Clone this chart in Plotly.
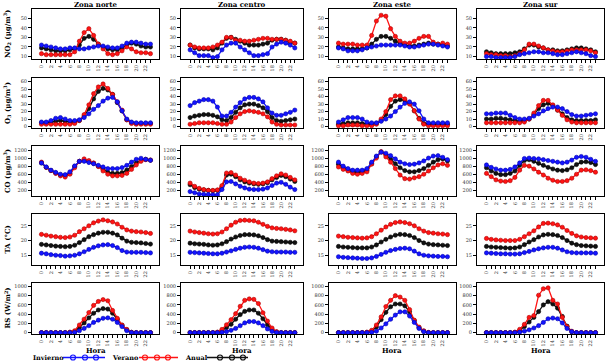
import plotly.graph_objects as go

HOURS = list(range(24))
ZONES = ["Zona norte", "Zona centro", "Zona este", "Zona sur"]
XTICK_MAJOR = list(range(0, 24, 2))
XTICK_MINOR = list(range(1, 24, 2))

# ---------------- NO2 ----------------
no2_norte_inv = [22, 21, 20, 19, 18, 18, 19, 19, 18, 18, 19, 20, 21, 21, 20, 19, 19, 21, 24, 25, 25, 24, 23, 23]
no2_norte_ver = [13, 12, 12, 12, 12, 12, 12, 15, 26, 35, 39, 32, 23, 18, 13, 12, 13, 16, 20, 18, 15, 14, 14, 13]
no2_norte_anu = [19, 18, 17, 16, 16, 16, 17, 18, 22, 29, 31, 28, 23, 20, 18, 17, 17, 19, 22, 24, 23, 21, 20, 20]

no2_centro_inv = [17, 14, 11, 11, 11, 9, 10, 17, 22, 24, 24, 20, 17, 14, 11, 11, 12, 13, 20, 23, 25, 24, 22, 19]
no2_centro_ver = [22, 20, 19, 19, 19, 20, 22, 25, 30, 30, 27, 27, 26, 26, 27, 28, 29, 29, 28, 28, 28, 27, 26, 24]
no2_centro_anu = [22, 19, 18, 18, 18, 17, 19, 24, 29, 30, 28, 26, 24, 22, 22, 22, 23, 24, 27, 28, 28, 27, 25, 24]

no2_este_inv = [19, 18, 16, 16, 16, 17, 19, 20, 21, 22, 22, 22, 22, 22, 21, 20, 20, 21, 22, 23, 23, 22, 21, 20]
no2_este_ver = [24, 23, 23, 23, 22, 22, 22, 32, 47, 53, 52, 39, 31, 26, 24, 24, 26, 29, 31, 31, 25, 23, 24, 23]
no2_este_anu = [20, 19, 18, 18, 18, 18, 19, 23, 28, 31, 31, 29, 26, 24, 22, 21, 21, 22, 23, 24, 23, 23, 22, 21]

no2_sur_inv = [10, 10, 9, 9, 9, 9, 10, 12, 13, 14, 15, 15, 14, 14, 13, 12, 12, 13, 14, 15, 14, 13, 11, 10]
no2_sur_ver = [13, 12, 12, 11, 11, 10, 11, 13, 17, 23, 23, 21, 19, 17, 16, 15, 15, 16, 17, 17, 17, 17, 16, 14]
no2_sur_anu = [15, 14, 13, 13, 13, 13, 14, 15, 18, 22, 22, 20, 19, 17, 17, 16, 16, 17, 18, 19, 19, 18, 17, 15]

# ---------------- O3 ----------------
o3_norte_inv = [6, 6, 8, 11, 12, 10, 8, 8, 9, 12, 17, 23, 28, 34, 38, 39, 33, 21, 10, 6, 5, 5, 5, 5]
o3_norte_ver = [3, 3, 3, 3, 3, 3, 3, 4, 8, 16, 29, 44, 53, 57, 51, 43, 33, 22, 9, 4, 3, 3, 3, 3]
o3_norte_anu = [5, 5, 6, 7, 8, 7, 6, 6, 8, 14, 24, 37, 47, 51, 49, 43, 32, 21, 9, 5, 4, 4, 4, 4]

o3_centro_inv = [28, 32, 34, 36, 36, 34, 26, 14, 14, 19, 26, 32, 37, 39, 39, 37, 33, 25, 18, 15, 15, 17, 19, 22]
o3_centro_ver = [3, 4, 5, 5, 5, 5, 4, 3, 3, 6, 12, 17, 20, 21, 20, 19, 17, 13, 6, 3, 2, 2, 2, 2]
o3_centro_anu = [12, 14, 15, 16, 16, 15, 13, 9, 8, 12, 19, 25, 29, 30, 30, 28, 25, 20, 12, 8, 7, 8, 9, 10]

o3_este_inv = [6, 9, 12, 12, 12, 10, 6, 5, 5, 7, 10, 14, 20, 26, 31, 33, 30, 21, 10, 5, 5, 5, 5, 5]
o3_este_ver = [1, 1, 2, 2, 2, 1, 1, 1, 3, 10, 20, 36, 41, 41, 37, 30, 21, 10, 3, 1, 1, 1, 1, 1]
o3_este_anu = [3, 4, 5, 5, 5, 4, 3, 3, 4, 8, 16, 27, 34, 36, 35, 31, 21, 11, 4, 3, 3, 3, 3, 3]

o3_sur_inv = [17, 17, 18, 18, 18, 15, 12, 10, 10, 11, 14, 17, 21, 24, 26, 26, 24, 20, 16, 14, 14, 15, 16, 17]
o3_sur_ver = [5, 5, 5, 5, 5, 5, 5, 5, 6, 10, 18, 28, 35, 35, 29, 22, 15, 9, 6, 5, 5, 5, 5, 5]
o3_sur_anu = [10, 10, 11, 11, 10, 9, 8, 7, 8, 10, 16, 24, 29, 31, 28, 22, 17, 12, 9, 8, 8, 8, 8, 9]

# ---------------- CO ----------------
co_norte_inv = [880, 780, 700, 645, 600, 590, 660, 805, 920, 920, 890, 860, 820, 780, 740, 740, 740, 765, 820, 900, 970, 995, 970, 945]
co_norte_ver = [900, 770, 690, 620, 560, 530, 600, 760, 920, 980, 940, 880, 790, 680, 600, 560, 560, 570, 620, 720, 830, 920, 960, 950]
co_norte_anu = [880, 770, 690, 630, 580, 560, 620, 790, 920, 940, 910, 870, 800, 720, 650, 620, 620, 640, 700, 790, 880, 950, 970, 950]

co_centro_inv = [170, 140, 110, 100, 100, 90, 90, 220, 410, 420, 360, 300, 260, 230, 220, 220, 230, 260, 320, 380, 400, 350, 280, 220]
co_centro_ver = [380, 300, 250, 220, 200, 200, 210, 320, 630, 640, 580, 500, 450, 410, 380, 370, 380, 410, 490, 560, 610, 580, 520, 460]
co_centro_anu = [340, 270, 230, 210, 200, 190, 200, 290, 580, 600, 540, 460, 410, 380, 360, 350, 360, 390, 460, 520, 570, 540, 480, 420]

co_este_inv = [900, 800, 740, 700, 700, 700, 740, 900, 1050, 1150, 1120, 1060, 980, 900, 860, 840, 850, 880, 930, 1000, 1050, 1060, 1020, 960]
co_este_ver = [780, 720, 680, 620, 600, 620, 660, 850, 1000, 1160, 1030, 900, 740, 580, 490, 480, 510, 540, 600, 680, 760, 830, 860, 820]
co_este_anu = [850, 760, 700, 660, 650, 660, 700, 860, 1030, 1150, 1080, 970, 860, 760, 690, 660, 660, 690, 740, 820, 900, 960, 980, 930]

co_sur_inv = [830, 770, 730, 700, 700, 720, 780, 880, 990, 1000, 990, 980, 960, 940, 920, 900, 880, 900, 950, 1020, 1040, 1020, 970, 920]
co_sur_ver = [620, 540, 460, 430, 420, 440, 520, 700, 820, 800, 730, 650, 580, 500, 450, 420, 420, 440, 500, 600, 700, 710, 690, 650]
co_sur_anu = [760, 680, 620, 590, 590, 620, 680, 820, 940, 960, 920, 870, 820, 770, 730, 700, 690, 710, 760, 840, 900, 910, 890, 840]

# ---------------- TA ----------------
ta_norte_inv = [15.7, 15.5, 15.2, 15.0, 14.9, 14.7, 14.8, 15.0, 15.5, 16.2, 17.0, 17.7, 18.2, 18.5, 18.6, 18.3, 17.6, 16.6, 16.1, 16.0, 16.0, 16.0, 15.9, 15.8]
ta_norte_ver = [22.1, 21.8, 21.5, 21.3, 21.1, 21.0, 21.2, 21.8, 23.0, 24.0, 25.0, 26.0, 26.6, 27.0, 26.7, 26.3, 25.6, 24.5, 23.6, 23.2, 23.0, 22.9, 22.7, 22.4]
ta_norte_anu = [18.7, 18.5, 18.3, 18.1, 18.0, 17.9, 18.0, 18.4, 19.3, 20.3, 21.3, 22.0, 22.5, 22.8, 22.8, 22.5, 21.9, 20.8, 19.8, 19.4, 19.3, 19.2, 19.0, 18.8]

ta_centro_inv = [16.0, 15.9, 15.8, 15.7, 15.6, 15.5, 15.5, 15.7, 16.1, 16.5, 17.0, 17.4, 17.7, 17.8, 17.7, 17.4, 16.9, 16.4, 16.2, 16.1, 16.1, 16.1, 16.0, 16.0]
ta_centro_ver = [23.2, 22.9, 22.7, 22.5, 22.3, 22.2, 22.3, 22.9, 24.0, 25.2, 26.2, 26.8, 26.9, 26.8, 26.7, 26.2, 25.5, 24.8, 24.3, 24.1, 24.0, 23.8, 23.6, 23.3]
ta_centro_anu = [19.1, 18.9, 18.8, 18.7, 18.5, 18.4, 18.5, 18.9, 19.6, 20.5, 21.2, 21.7, 22.0, 22.0, 21.9, 21.6, 21.0, 20.3, 19.8, 19.7, 19.6, 19.5, 19.4, 19.3]

ta_este_inv = [14.5, 14.3, 14.2, 14.1, 14.0, 13.9, 13.9, 14.1, 14.6, 15.3, 16.0, 16.6, 17.0, 17.3, 17.4, 17.2, 16.4, 15.5, 15.0, 14.8, 14.7, 14.6, 14.6, 14.5]
ta_este_ver = [21.5, 21.3, 21.1, 21.0, 20.9, 20.8, 20.9, 21.3, 22.3, 23.5, 24.6, 25.5, 26.1, 26.3, 26.1, 25.7, 25.0, 24.0, 23.2, 22.7, 22.5, 22.3, 22.2, 22.0]
ta_este_anu = [18.0, 17.8, 17.7, 17.6, 17.5, 17.5, 17.5, 17.8, 18.5, 19.5, 20.4, 21.2, 21.8, 22.1, 22.0, 21.7, 21.0, 20.0, 19.2, 18.8, 18.6, 18.5, 18.4, 18.3]

ta_sur_inv = [15.8, 15.7, 15.6, 15.5, 15.5, 15.4, 15.4, 15.5, 15.9, 16.3, 16.8, 17.2, 17.5, 17.7, 17.7, 17.4, 16.8, 16.2, 15.9, 15.8, 15.8, 15.8, 15.8, 15.7]
ta_sur_ver = [20.7, 20.4, 20.2, 20.1, 20.0, 20.0, 20.0, 20.4, 21.3, 22.3, 23.3, 24.6, 25.8, 25.9, 25.7, 25.3, 24.5, 23.4, 22.4, 21.6, 21.2, 21.0, 20.9, 20.8]
ta_sur_anu = [18.0, 17.8, 17.7, 17.6, 17.5, 17.4, 17.5, 17.8, 18.6, 19.5, 20.3, 21.2, 21.9, 22.1, 22.0, 21.7, 21.0, 20.0, 19.1, 18.6, 18.3, 18.2, 18.1, 18.0]

# ---------------- RS ----------------
rs_norte_inv = [0, 0, 0, 0, 0, 0, 0, 5, 40, 90, 150, 220, 270, 310, 320, 290, 220, 130, 40, 3, 0, 0, 0, 0]
rs_norte_ver = [0, 0, 0, 0, 0, 0, 10, 40, 165, 290, 435, 590, 675, 715, 690, 480, 310, 165, 70, 5, 0, 0, 0, 0]
rs_norte_anu = [0, 0, 0, 0, 0, 0, 5, 20, 110, 210, 320, 420, 490, 520, 510, 420, 290, 160, 60, 5, 0, 0, 0, 0]

rs_centro_inv = [0, 0, 0, 0, 0, 0, 0, 5, 20, 50, 90, 150, 210, 240, 240, 210, 150, 80, 25, 3, 0, 0, 0, 0]
rs_centro_ver = [0, 0, 0, 0, 0, 0, 10, 70, 170, 280, 410, 570, 700, 730, 720, 630, 430, 250, 100, 20, 0, 0, 0, 0]
rs_centro_anu = [0, 0, 0, 0, 0, 0, 5, 40, 110, 180, 290, 390, 460, 490, 490, 420, 300, 170, 70, 10, 0, 0, 0, 0]

rs_este_inv = [0, 0, 0, 0, 0, 0, 0, 5, 30, 100, 190, 290, 380, 450, 450, 360, 220, 90, 20, 0, 0, 0, 0, 0]
rs_este_ver = [0, 0, 0, 0, 0, 0, 10, 50, 165, 340, 565, 700, 800, 770, 700, 500, 270, 120, 40, 5, 0, 0, 0, 0]
rs_este_anu = [0, 0, 0, 0, 0, 0, 5, 30, 120, 280, 440, 560, 620, 620, 580, 450, 260, 110, 30, 0, 0, 0, 0, 0]

rs_sur_inv = [0, 0, 0, 0, 0, 0, 0, 10, 30, 60, 100, 150, 220, 300, 315, 300, 210, 90, 20, 0, 0, 0, 0, 0]
rs_sur_ver = [0, 0, 0, 0, 0, 0, 10, 70, 180, 330, 370, 810, 950, 970, 700, 620, 330, 130, 30, 0, 0, 0, 0, 0]
rs_sur_anu = [0, 0, 0, 0, 0, 0, 5, 40, 130, 230, 330, 455, 600, 670, 620, 530, 350, 140, 20, 0, 0, 0, 0, 0]

PANELS = [
    [(no2_norte_inv, no2_norte_ver, no2_norte_anu), (no2_centro_inv, no2_centro_ver, no2_centro_anu),
     (no2_este_inv, no2_este_ver, no2_este_anu), (no2_sur_inv, no2_sur_ver, no2_sur_anu)],
    [(o3_norte_inv, o3_norte_ver, o3_norte_anu), (o3_centro_inv, o3_centro_ver, o3_centro_anu),
     (o3_este_inv, o3_este_ver, o3_este_anu), (o3_sur_inv, o3_sur_ver, o3_sur_anu)],
    [(co_norte_inv, co_norte_ver, co_norte_anu), (co_centro_inv, co_centro_ver, co_centro_anu),
     (co_este_inv, co_este_ver, co_este_anu), (co_sur_inv, co_sur_ver, co_sur_anu)],
    [(ta_norte_inv, ta_norte_ver, ta_norte_anu), (ta_centro_inv, ta_centro_ver, ta_centro_anu),
     (ta_este_inv, ta_este_ver, ta_este_anu), (ta_sur_inv, ta_sur_ver, ta_sur_anu)],
    [(rs_norte_inv, rs_norte_ver, rs_norte_anu), (rs_centro_inv, rs_centro_ver, rs_centro_anu),
     (rs_este_inv, rs_este_ver, rs_este_anu), (rs_sur_inv, rs_sur_ver, rs_sur_anu)],
]

Y_TITLES = ["NO<sub>2</sub> (μg/m<sup>3</sup>)", "O<sub>3</sub> (μg/m<sup>3</sup>)",
            "CO (μg/m<sup>3</sup>)", "TA (°C)", "RS (W/m<sup>2</sup>)"]
Y_TICKS = [[10, 20, 30, 40, 50], [0, 10, 20, 30, 40, 50, 60],
           [200, 400, 600, 800, 1000, 1200], [15, 20, 25],
           [0, 200, 400, 600, 800, 1000]]
Y_RANGES = [[7.5, 59.5], [-2, 65], [60, 1300], [11.7, 29], [-30, 1075]]

SERIES_NAMES = ["Invierno", "Verano", "Anual"]
SERIES_COLORS = ["#1414ff", "#ff1414", "#111111"]
SERIES_EDGE = ["#0000b0", "#b00000", "#000000"]

W, H = 605, 363
COL_PX = [(32, 159), (181, 303), (329, 456), (477, 604)]
ROW_PX = [(9, 59), (78, 128), (146, 196), (214, 265), (283, 334)]

SERIF = "DejaVu Serif"

fig = go.Figure()
layout = {}
annotations = []
shapes = []

for r in range(5):
    for c in range(4):
        n = r * 4 + c + 1
        xa = "xaxis" if n == 1 else f"xaxis{n}"
        ya = "yaxis" if n == 1 else f"yaxis{n}"
        xref = "x" if n == 1 else f"x{n}"
        yref = "y" if n == 1 else f"y{n}"
        x0, x1 = COL_PX[c]
        y0, y1 = ROW_PX[r]
        layout[xa] = dict(
            domain=[x0 / W, x1 / W], anchor=yref, range=[-2, 24.8],
            tickmode="array", tickvals=XTICK_MAJOR, tickangle=-90,
            ticks="outside", ticklen=3, tickwidth=1, tickcolor="black",
            minor=dict(tickmode="array", tickvals=XTICK_MINOR, ticks="outside",
                       ticklen=3, tickwidth=1, tickcolor="black", showgrid=False),
            showline=True, mirror=True, linecolor="black", linewidth=1,
            showgrid=False, zeroline=False,
            tickfont=dict(family=SERIF, size=5, color="#333"),
        )
        layout[ya] = dict(
            domain=[1 - y1 / H, 1 - y0 / H], anchor=xref, range=Y_RANGES[r],
            tickvals=Y_TICKS[r], ticks="outside", ticklen=3, tickwidth=1, tickcolor="black",
            showline=True, mirror=True, linecolor="black", linewidth=1,
            showgrid=False, zeroline=False,
            tickfont=dict(family=SERIF, size=5, color="#333"),
        )
        inv, ver, anu = PANELS[r][c]
        for k in (2, 1, 0):
            vals = (inv, ver, anu)[k]
            fig.add_trace(go.Scatter(
                x=HOURS, y=vals, xaxis=xref, yaxis=yref, mode="lines+markers",
                name=SERIES_NAMES[k], showlegend=False,
                line=dict(color=SERIES_COLORS[k], width=1.3),
                marker=dict(size=4.2, color=SERIES_COLORS[k],
                            line=dict(width=0.6, color=SERIES_EDGE[k])),
            ))

# Column titles and x-axis titles
for c in range(4):
    x0, x1 = COL_PX[c]
    annotations.append(dict(
        text=f"<b>{ZONES[c]}</b>", x=(x0 + x1) / 2 / W, y=1 - 4.5 / H,
        xref="paper", yref="paper", showarrow=False, xanchor="center", yanchor="middle",
        font=dict(family=SERIF, size=7, color="black")))
    annotations.append(dict(
        text="<b>Hora</b>", x=(x0 + x1) / 2 / W, y=1 - 350.5 / H,
        xref="paper", yref="paper", showarrow=False, xanchor="center", yanchor="middle",
        font=dict(family=SERIF, size=7, color="black")))

# Row titles
for r in range(5):
    y0, y1 = ROW_PX[r]
    annotations.append(dict(
        text=f"<b>{Y_TITLES[r]}</b>", x=7 / W, y=1 - (y0 + y1) / 2 / H,
        xref="paper", yref="paper", showarrow=False, textangle=-90,
        xanchor="center", yanchor="middle",
        font=dict(family=SERIF, size=7, color="black")))

# Custom legend (text, then line with three markers)
LEG_Y = 357.5
LEG_ITEMS = [
    (0, 31, 63, 105, [73, 85, 96]),
    (1, 110, 139, 178, [145, 157, 168]),
    (2, 183, 207, 248, [220, 232, 243]),
]
for k, tx, lx0, lx1, mxs in LEG_ITEMS:
    annotations.append(dict(
        text=f"<b>{SERIES_NAMES[k]}</b>", x=tx / W, y=1 - LEG_Y / H,
        xref="paper", yref="paper", showarrow=False, xanchor="left", yanchor="middle",
        font=dict(family=SERIF, size=6.5, color="black")))
    shapes.append(dict(type="line", xref="paper", yref="paper",
                       x0=lx0 / W, x1=lx1 / W, y0=1 - LEG_Y / H, y1=1 - LEG_Y / H,
                       line=dict(color=SERIES_COLORS[k], width=1.5)))
    for mx in mxs:
        shapes.append(dict(type="circle", xref="paper", yref="paper",
                           x0=(mx - 2.5) / W, x1=(mx + 2.5) / W,
                           y0=1 - (LEG_Y + 2.5) / H, y1=1 - (LEG_Y - 2.5) / H,
                           line=dict(color=SERIES_COLORS[k], width=1.2)))

fig.update_layout(
    width=W, height=H, margin=dict(l=0, r=0, t=0, b=0),
    paper_bgcolor="white", plot_bgcolor="white",
    showlegend=False, annotations=annotations, shapes=shapes,
    **layout,
)

fig.write_html(
    "out.html",
    config={"displayModeBar": False},
    post_script="document.body.style.margin='0px';document.body.style.padding='0px';document.body.style.overflow='hidden';",
)
